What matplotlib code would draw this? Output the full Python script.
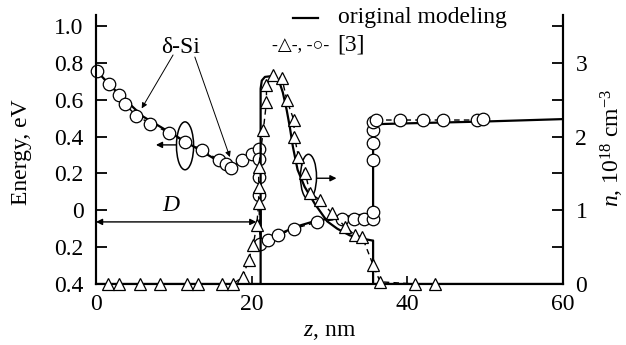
import matplotlib
matplotlib.use("Agg")
import matplotlib.pyplot as plt
from matplotlib.patches import Ellipse
from matplotlib.lines import Line2D

plt.rcParams['font.family'] = ['Liberation Serif', 'DejaVu Sans']
plt.rcParams['mathtext.fontset'] = 'custom'
plt.rcParams['mathtext.rm'] = 'Liberation Serif'
plt.rcParams['mathtext.it'] = 'Liberation Serif:italic'

# ---- data ----
# Energy, original modeling (solid)
z_E_model = [0, 2, 4, 6, 8, 10, 12, 14, 16, 17.4, 19, 20.5, 21.15, 21.15, 22, 24, 26, 28, 30, 32, 34, 35.6, 35.6, 40, 50, 60]
E_model = [0.76, 0.67, 0.59, 0.51, 0.46, 0.41, 0.36, 0.31, 0.26, 0.235, 0.27, 0.31, 0.33, -0.2, -0.17, -0.12, -0.085, -0.06, -0.045, -0.035, -0.025, -0.02, 0.467, 0.472, 0.482, 0.495]

# Energy, [3] (circles, dashed)
z_E_ref = [0.1, 1.7, 3.0, 3.7, 5.2, 7.0, 9.4, 11.4, 13.6, 15.8, 16.7, 17.4, 18.8, 20.0, 20.9, 20.9, 20.9, 20.9, 21.1,
           22.1, 23.4, 25.4, 28.4, 31.6, 33.1, 34.4, 35.6, 35.6, 35.6, 35.6, 35.6, 35.6, 36.0, 39.1, 42.0, 44.6, 49.0, 49.7]
E_ref = [0.755, 0.685, 0.625, 0.576, 0.513, 0.471, 0.42, 0.371, 0.33, 0.272, 0.25, 0.232, 0.272, 0.304, 0.335, 0.281, 0.181, 0.082, -0.185,
         -0.163, -0.136, -0.10, -0.064, -0.045, -0.045, -0.045, -0.045, -0.009, 0.272, 0.363, 0.435, 0.48, 0.49, 0.49, 0.49, 0.49, 0.49, 0.495]

# Density, original modeling (solid)
z_n_model = [0, 21.15, 21.15, 21.3, 21.7, 22.5, 23.5, 24.0, 24.5, 24.9, 25.3, 25.9, 26.8, 28.1, 29.7, 31.0, 32.6, 34.0, 35.5, 35.6, 35.6, 60]
n_model = [0, 0, 2.65, 2.76, 2.81, 2.82, 2.76, 2.6, 2.36, 2.13, 1.86, 1.55, 1.32, 1.09, 0.85, 0.75, 0.66, 0.62, 0.59, 0.59, 0, 0]

# Density, [3] (triangles, dashed)
z_n_ref = [1.6, 2.9, 5.7, 8.2, 11.7, 13.1, 16.2, 17.6, 18.9, 19.6, 20.2, 20.65, 20.9, 20.9, 20.9, 21.5, 21.9, 21.9, 22.8, 23.9,
           24.5, 25.4, 25.5, 26.0, 26.9, 27.5, 28.8, 30.3, 32.0, 33.3, 34.2, 35.6, 36.5, 41.0, 43.6]
n_ref = [0, 0, 0, 0, 0, 0, 0, 0, 0.1, 0.33, 0.53, 0.80, 1.10, 1.32, 1.59, 2.09, 2.47, 2.70, 2.84, 2.79,
         2.50, 2.23, 2.0, 1.73, 1.50, 1.23, 1.14, 0.96, 0.78, 0.66, 0.64, 0.26, 0.03, 0, 0]
z_n_ref_end = 49.5

x_ticks = [0, 20, 40, 60]
E_ticks = [-0.4, -0.2, 0, 0.2, 0.4, 0.6, 0.8, 1.0]
E_tick_labels = ['0.4', '0.2', '0', '0.2', '0.4', '0.6', '0.8', '1.0']
n_ticks = [0, 1, 2, 3]
n_minor = [0.5, 1.5, 2.5, 3.5]

W, H = 626, 345
fig = plt.figure(figsize=(W / 100, H / 100), dpi=100)
ax = fig.add_axes([96 / W, 1 - 284 / H, (563 - 96) / W, (284 - 15) / H])
ax2 = ax.twinx()

ax.set_xlim(0, 60)
ax.set_ylim(-0.4, 1.06)
ax2.set_ylim(0, 3.65)

FS = 17

# energy curves
ax.plot(z_E_model, E_model, color='black', lw=1.6, zorder=2)
ax.plot(z_E_ref, E_ref, color='black', lw=1.0, ls=(0, (4, 3)), marker='o', ms=9,
        mfc='white', mec='black', mew=0.9, zorder=3, clip_on=False)

# density curves
ax2.plot(z_n_model, n_model, color='black', lw=1.6, zorder=2)
zl = z_n_ref + [z_n_ref_end]
nl = n_ref + [0]
ax2.plot(zl, nl, color='black', lw=1.0, ls=(0, (4, 3)), zorder=2.5)
ax2.plot(z_n_ref, n_ref, ls='none', marker='^', ms=9, mfc='white', mec='black', mew=0.9, zorder=3,
         clip_on=False)

# spines and ticks
for a in (ax, ax2):
    a.spines['top'].set_visible(False)
    for s in ('left', 'right', 'bottom'):
        a.spines[s].set_linewidth(1.5)

ax.set_xticks(x_ticks)
ax.set_xticklabels([str(v) for v in x_ticks])
ax.set_yticks(E_ticks)
ax.set_yticklabels(E_tick_labels)
ax.tick_params(axis='y', direction='in', length=8, width=1.3, labelsize=FS, pad=9)
ax.tick_params(axis='x', direction='in', length=6, width=1.2, labelsize=FS, pad=7)

ax2.set_yticks(n_ticks)
ax2.set_yticks(n_minor, minor=True)
ax2.set_yticklabels([str(v) for v in n_ticks])
ax2.tick_params(axis='y', which='major', direction='in', length=8, width=1.3, labelsize=FS, pad=9)
ax2.tick_params(axis='y', which='minor', direction='in', length=8, width=1.3)

# axis labels
fig.text(22 / W, 1 - 152 / H, 'Energy, eV', rotation=90, ha='center', va='center', fontsize=FS)
fig.text(612 / W, 1 - 148 / H, r'$n$, 10$^{18}$ cm$^{-3}$', rotation=90, ha='center', va='center', fontsize=FS)
fig.text(330 / W, 1 - 332 / H, r'$z$, nm', ha='center', va='center', fontsize=FS)

# annotations
ax.text(10.9, 0.885, 'δ-Si', ha='center', va='center', fontsize=FS)
ax.annotate('', xy=(5.87, 0.553), xytext=(9.9, 0.843),
            arrowprops=dict(arrowstyle='-|>', color='black', lw=0.7, mutation_scale=8, shrinkA=0, shrinkB=0))
ax.annotate('', xy=(17.2, 0.289), xytext=(12.7, 0.832),
            arrowprops=dict(arrowstyle='-|>', color='black', lw=0.7, mutation_scale=8, shrinkA=0, shrinkB=0))

ax.add_patch(Ellipse((11.44, 0.35), 2.2, 0.26, fill=False, ec='black', lw=1.1, zorder=4))
ax.annotate('', xy=(7.7, 0.355), xytext=(10.3, 0.355),
            arrowprops=dict(arrowstyle='-|>', color='black', lw=1.0, mutation_scale=9, shrinkA=0, shrinkB=0))
ax.add_patch(Ellipse((27.3, 0.182), 2.06, 0.244, fill=False, ec='black', lw=1.1, zorder=4))
ax.annotate('', xy=(30.9, 0.174), xytext=(28.35, 0.174),
            arrowprops=dict(arrowstyle='-|>', color='black', lw=1.0, mutation_scale=9, shrinkA=0, shrinkB=0))

ax.annotate('', xy=(20.6, -0.063), xytext=(0, -0.063),
            arrowprops=dict(arrowstyle='<|-|>', color='black', lw=1.0, mutation_scale=9, shrinkA=0, shrinkB=0))
ax.text(9.7, 0.025, r'$D$', ha='center', va='center', fontsize=FS)

# legend
fig.add_artist(Line2D([293 / W, 318 / W], [1 - 18 / H, 1 - 18 / H], color='black', lw=1.6))
fig.text(338 / W, 1 - 17 / H, 'original modeling', ha='left', va='center', fontsize=FS)
fig.text(272 / W, 1 - 46 / H, '-△-, -○-', ha='left', va='center', fontsize=13)
fig.text(337 / W, 1 - 45 / H, '[3]', ha='left', va='center', fontsize=FS)

fig.savefig('out.png', dpi=100)
